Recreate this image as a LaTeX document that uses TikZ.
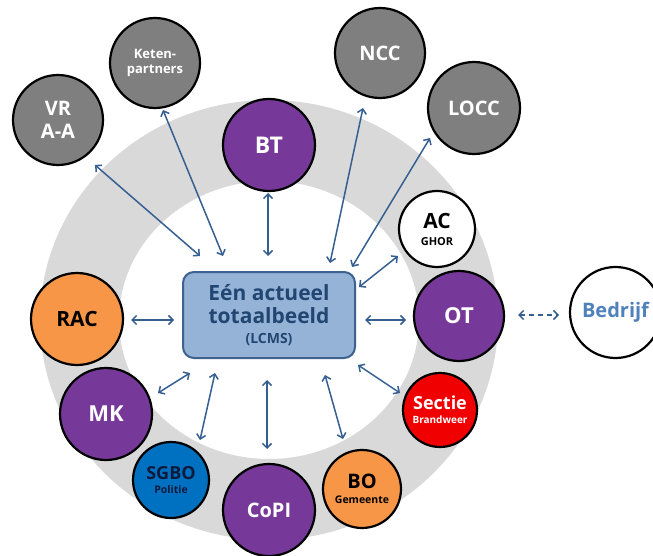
\documentclass[tikz,border=0pt]{standalone}
\usepackage{fontspec}
\newfontfamily\lf{Open Sans}
\usetikzlibrary{arrows.meta}
\definecolor{ringgray}{HTML}{D9D9D9}
\definecolor{cgray}{HTML}{7F7F7F}
\definecolor{cpurple}{HTML}{76399A}
\definecolor{corange}{HTML}{F79646}
\definecolor{cred}{HTML}{F00000}
\definecolor{cblue}{HTML}{0070C0}
\definecolor{cnavy}{HTML}{0D1B3E}
\definecolor{arrowc}{HTML}{365F91}
\definecolor{boxfill}{HTML}{95B3D7}
\definecolor{boxline}{HTML}{3E618F}
\definecolor{boxtext}{HTML}{214672}
\definecolor{bedtext}{HTML}{4F81BD}
\newcommand{\fsz}[1]{\fontsize{#1}{#1}\selectfont}
\tikzset{
  lh/.style={font=\lf\bfseries\fontsize{10}{#1}\selectfont},
  unit/.style={circle, draw=black, line width=2.2pt, inner sep=0pt, align=center,
    lh=20pt},
  big/.style={unit, minimum size=92pt},
  small/.style={unit, minimum size=76pt},
  grayunit/.style={big, fill=cgray, text=white},
  purpleunit/.style={big, fill=cpurple, text=white},
  link/.style={draw=arrowc, line width=1.5pt, {Straight Barb[length=4.5pt,width=9pt]}-{Straight Barb[length=4.5pt,width=9pt]}},
  dlink/.style={link, dash pattern=on 5pt off 4pt}
}
\begin{document}
\begin{tikzpicture}[x=1pt,y=-1pt]
\clip (0,0) rectangle (653,556);
\fill[white] (0,0) rectangle (653,556);
% ring
\fill[ringgray, even odd rule] (269,320) ellipse [x radius=229, y radius=220]
  (269,320) ellipse [x radius=150, y radius=139];

% centre box
\node[draw=boxline, line width=2pt, fill=boxfill, rounded corners=11pt,
  minimum width=172pt, minimum height=86pt, align=center, text=boxtext,
  lh=23pt] (box) at (269,315)
  {\fsz{21}Eén actueel\\\fsz{21}totaalbeeld\\[-3pt]\fsz{14}(LCMS)};

% units
\node[grayunit, minimum size=90pt, lh=23pt] (vr) at (58,120) {\fsz{20}VR\\\fsz{20}A-A};
\node[grayunit, minimum size=90pt, lh=14.5pt] (keten) at (155,63) {\fsz{13}Keten-\\\fsz{13}partners};
\node[purpleunit] (bt) at (269,145) {\fsz{23}BT};
\node[grayunit, minimum size=90pt] (ncc) at (380,53) {\fsz{20}NCC};
\node[grayunit] (locc) at (474,108) {\fsz{20}LOCC};
\node[small, fill=white, text=black, lh=17pt] (ac) at (437,229) {\fsz{21}AC\\\fsz{11}GHOR};
\node[purpleunit, minimum size=90pt] (ot) at (459,316) {\fsz{22}OT};
\node[unit, minimum size=91pt, fill=white, text=bedtext] (bed) at (615.5,312.5) {\fsz{20}Bedrijf};
\node[small, minimum size=74pt, fill=cred, text=white, lh=14pt] (sectie) at (440,410) {\fsz{18}Sectie\\\fsz{10}Brandweer};
\node[small, minimum size=78pt, fill=corange, text=black, lh=15.5pt] (bo) at (362,489) {\fsz{20}BO\\\fsz{10.5}Gemeente};
\node[purpleunit] (copi) at (269,510) {\fsz{20}CoPI};
\node[small, fill=cblue, text=cnavy, lh=14.5pt] (sgbo) at (171,480) {\fsz{18}SGBO\\\fsz{10.5}Politie};
\node[purpleunit] (mk) at (106,414) {\fsz{22}MK};
\node[big, fill=corange, text=black] (rac) at (77,319) {\fsz{21}RAC};

% connector ends
\coordinate (vr1) at (95,165);   \coordinate (vr2) at (200,256);
\coordinate (ke1) at (163,110);  \coordinate (ke2) at (223,256);
\coordinate (bt1) at (268,193);  \coordinate (bt2) at (268,256);
\coordinate (nc1) at (363,108);  \coordinate (nc2) at (330,263);
\coordinate (lo1) at (430,138);  \coordinate (lo2) at (352,267);
\coordinate (ac1) at (398,256);  \coordinate (ac2) at (359,287);
\coordinate (ot1) at (365,320);  \coordinate (ot2) at (406,320);
\coordinate (be1) at (518,315);  \coordinate (be2) at (559,315);
\coordinate (se1) at (358,365);  \coordinate (se2) at (400,393);
\coordinate (bo1) at (325,375);  \coordinate (bo2) at (343,439);
\coordinate (co1) at (267,380);  \coordinate (co2) at (267,449);
\coordinate (sg1) at (215,373);  \coordinate (sg2) at (200,440);
\coordinate (mk1) at (190,373);  \coordinate (mk2) at (158,393);
\coordinate (ra1) at (131,320);  \coordinate (ra2) at (174,320);

\draw[link] (vr1) -- (vr2);
\draw[link] (ke1) -- (ke2);
\draw[link] (bt1) -- (bt2);
\draw[link] (nc1) -- (nc2);
\draw[link] (lo1) -- (lo2);
\draw[link] (ac1) -- (ac2);
\draw[link] (ot1) -- (ot2);
\draw[dlink] (be1) -- (be2);
\draw[link] (se1) -- (se2);
\draw[link] (bo1) -- (bo2);
\draw[link] (co1) -- (co2);
\draw[link] (sg1) -- (sg2);
\draw[link] (mk1) -- (mk2);
\draw[link] (ra1) -- (ra2);
\end{tikzpicture}
\end{document}
